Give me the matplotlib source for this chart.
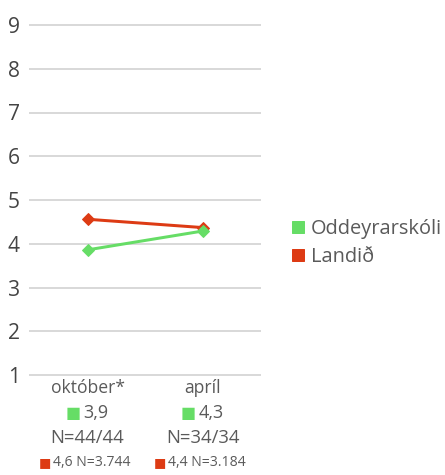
import matplotlib
matplotlib.use("Agg")
import matplotlib.pyplot as plt
from matplotlib.lines import Line2D

categories = ["október*", "apríl"]
school_vals = [3.86, 4.29]
national_vals = [4.56, 4.37]
school_labels = ["3,9", "4,3"]
school_n = ["N=44/44", "N=34/34"]
national_labels = ["4,6 N=3.744", "4,4 N=3.184"]
series_names = ["Oddeyrarskóli", "Landið"]
yticks = [1, 2, 3, 4, 5, 6, 7, 8, 9]

GREEN = "#66dd66"
RED = "#dd3b14"
TXT = "#5a5a5a"
GRID = "#d9d9d9"

plt.rcParams["font.family"] = ["Open Sans", "DejaVu Sans"]

W, H = 445, 475
fig = plt.figure(figsize=(W / 72, H / 72), dpi=72)
ax = fig.add_axes([30 / W, (H - 375) / H, 230 / W, 350 / H])

x = list(range(len(categories)))
ax.set_xlim(-0.5, 1.5)
ax.set_ylim(1, 9)
for y in yticks:
    ax.axhline(y, color=GRID, lw=2, zorder=0, clip_on=False)

ax.plot(x, national_vals, color=RED, lw=3, marker="D", ms=9, zorder=3)
ax.plot(x, school_vals, color=GREEN, lw=3, marker="D", ms=9, zorder=4)

ax.set_yticks(yticks)
ax.set_yticklabels([str(v) for v in yticks], fontsize=21, color="#444444")
ax.tick_params(axis="y", length=0, pad=10)
ax.set_xticks([])
for s in ax.spines.values():
    s.set_visible(False)

# labels under each category: name, school value + N, national value + N
for i in x:
    kw = dict(xycoords=("data", "axes fraction"), textcoords="offset pixels",
              va="center")
    ax.annotate(categories[i], xy=(i, 0), xytext=(0, -13), ha="center",
                fontsize=17.5, color=TXT, **kw)
    ax.annotate("■", xy=(i, 0), xytext=(-14, -38), ha="center",
                fontsize=16, color=GREEN, family="DejaVu Sans", **kw)
    ax.annotate(school_labels[i], xy=(i, 0), xytext=(-4, -38), ha="left",
                fontsize=18, color=TXT, **kw)
    ax.annotate(school_n[i], xy=(i, 0), xytext=(0, -63), ha="center",
                fontsize=18.5, color=TXT, **kw)
    ax.annotate("■", xy=(i, 0), xytext=(-43, -88), ha="center",
                fontsize=13, color=RED, family="DejaVu Sans", **kw)
    ax.annotate(national_labels[i], xy=(i, 0), xytext=(-35, -88), ha="left",
                fontsize=14, color=TXT, **kw)

handles = [Line2D([], [], ls="none", marker="s", ms=12, color=c)
           for c in (GREEN, RED)]
fig.legend(handles, series_names, loc="center left",
           bbox_to_anchor=(274 / W, 1 - 243 / H), frameon=False,
           fontsize=20, labelcolor=TXT, handlelength=0.6, handletextpad=0.35,
           labelspacing=0.4)

fig.savefig("out.png", dpi=72, facecolor="white")
